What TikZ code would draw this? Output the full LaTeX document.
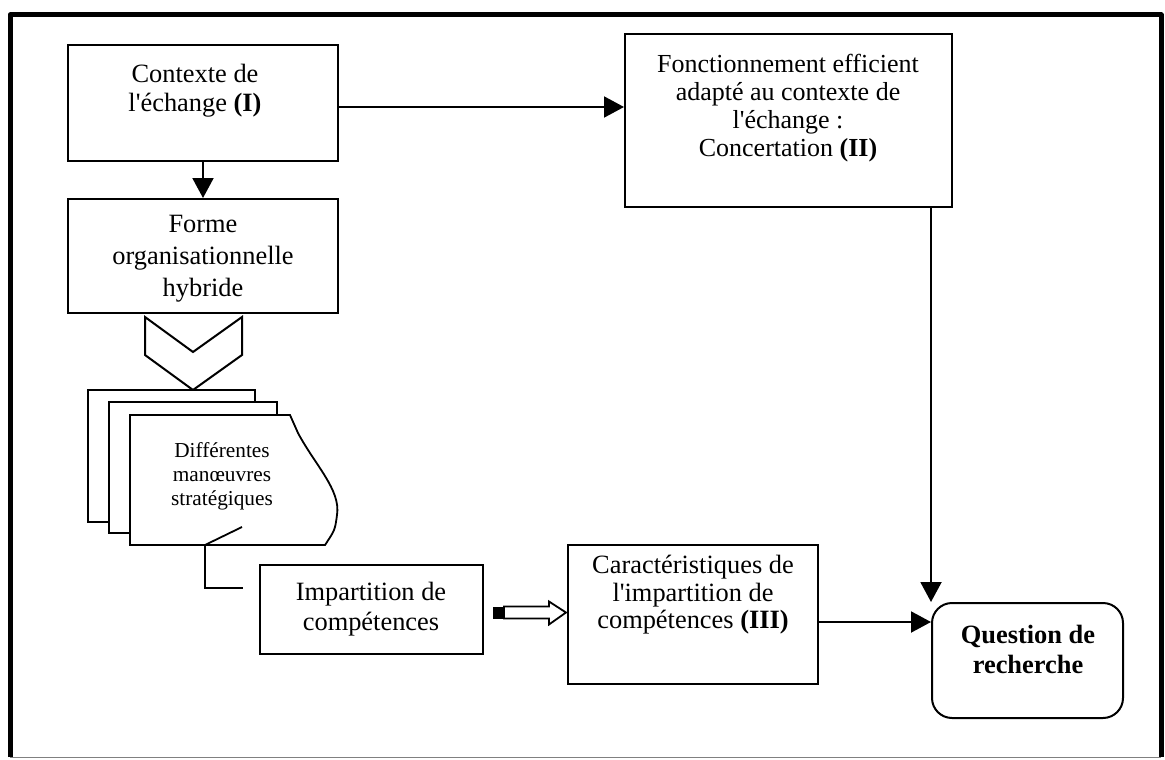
\documentclass[tikz,border=0pt]{standalone}
\usepackage{fontspec}
\setmainfont{Liberation Serif}
\usetikzlibrary{arrows.meta,calc}
\begin{document}
\begin{tikzpicture}[x=1pt,y=-1pt,
  box/.style={draw, line width=2pt, fill=white, inner sep=0pt},
  txt/.style={align=center, inner sep=0pt, anchor=north},
  arr/.style={-{Triangle[length=20pt,width=21pt]}, line width=2pt},
  page/.style={draw, line width=1.8pt, fill=white},
  plain/.style={line width=2pt}]
\useasboundingbox (0,0) rectangle (1165,760);
% outer frame
\draw[line width=5pt, line join=round] (10,757) -- (10,15) -- (1161,15) -- (1161,757);
\draw[line width=1pt, gray] (10,757) -- (1161,757);

% boxes
\node[box, minimum width=270pt, minimum height=116pt] (A) at (203,103) {};
\node[box, minimum width=270pt, minimum height=114pt] (B) at (203,256) {};
\node[box, minimum width=327pt, minimum height=173pt] (C) at (788.5,120.5) {};
\node[box, minimum width=223pt, minimum height=89pt] (D) at (371.5,609.5) {};
\node[box, minimum width=250pt, minimum height=139pt] (E) at (693,614.5) {};
\node[box, rounded corners=20pt, minimum width=191pt, minimum height=115pt] (Q) at (1027.5,660.5) {};

% texts
\node[txt, font=\fontsize{26.4}{29}\selectfont] (tA) at (195,64) {Contexte de\\l\textquotesingle échange \textbf{(I)}};
\node[txt, font=\fontsize{26.4}{32}\selectfont] (tB) at (203,215.5) {Forme\\organisationnelle\\hybride};
\node[txt, font=\fontsize{26}{28}\selectfont] (tC) at (788,54) {Fonctionnement efficient\\adapté au contexte de\\l\textquotesingle échange :\\Concertation \textbf{(II)}};
\node[txt, font=\fontsize{26.4}{30}\selectfont] (tD) at (371,582) {Impartition de\\compétences};
\node[txt, font=\fontsize{26.4}{27.5}\selectfont] (tE) at (693,555) {Caractéristiques de\\l\textquotesingle impartition de\\compétences \textbf{(III)}};
\node[txt, font=\fontsize{26.4}{30}\selectfont\bfseries] (tQ) at (1028,625) {Question de\\recherche};

% connectors
\draw[arr] (A.south) -- (B.north);
\draw[arr] ([yshift=-4pt]A.east) -- ([yshift=-4pt]A.east -| C.west);
\draw[arr] (Q.north west |- C.south) -- (Q.north west);
\draw[arr] ([yshift=-7.5pt]E.east) -- ([yshift=-7.5pt]E.east -| Q.west);

% chevron
\draw[plain, fill=white, line join=miter] (145,317) -- (193,352) -- (242,317) -- (242,355) -- (193,390) -- (145,355) -- cycle;

% multi-document
\draw[page] (88,390) rectangle (255,522);
\draw[page] (109,402) rectangle (277,533);
\draw[page] (130,415) -- (290,415) -- (298,433) .. controls (315,465) and (341,490) .. (337,515) .. controls (335,530) .. (325,545) -- (130,545) -- cycle;
\node[txt, font=\fontsize{21.3}{24}\selectfont] (tM) at (222,442) {Différentes\\manœuvres\\stratégiques};
\coordinate (mdbot) at (205,545);
\coordinate (mdtick) at (242,527);
\coordinate (cend) at (243,588);
\draw[line width=1.8pt] (mdbot) -- (mdtick);
\draw[line width=1.8pt] (mdbot) |- (cend);

% hollow arrow D -> E
\fill ($(D.east)+(9,-3)$) rectangle ($(D.east)+(20,9)$);
\draw[line width=1.8pt, fill=white, line join=miter]
  ($(D.east)+(20,-3)$) -- ($(D.east)+(65,-3)$) -- ($(D.east)+(65,-8)$)
  -- ($(E.west |- D.east)+(-1,3)$) -- ($(D.east)+(65,15)$) -- ($(D.east)+(65,9)$)
  -- ($(D.east)+(20,9)$) -- cycle;
\end{tikzpicture}
\end{document}
